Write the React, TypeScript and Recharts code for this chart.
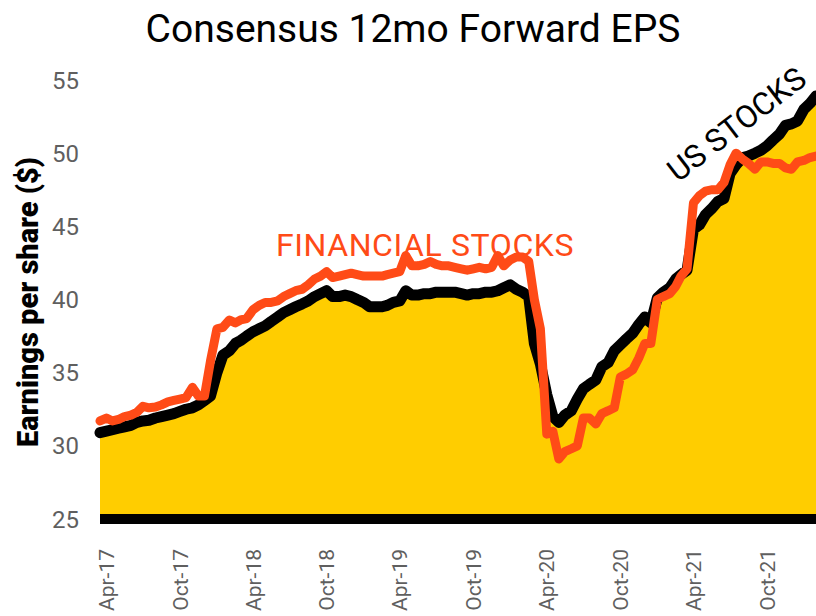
import React from 'react';
import { ComposedChart, Area, Line, XAxis, YAxis } from 'recharts';

// semi-monthly observation dates
const dates = [
  '2017-03-16',
  '2017-04-01', '2017-04-16', '2017-05-01', '2017-05-16', '2017-06-01', '2017-06-16',
  '2017-07-01', '2017-07-16', '2017-08-01', '2017-08-16', '2017-09-01', '2017-09-16',
  '2017-10-01', '2017-10-16', '2017-11-01', '2017-11-16', '2017-12-01', '2017-12-16',
  '2018-01-01', '2018-01-16', '2018-02-01', '2018-02-16', '2018-03-01', '2018-03-16',
  '2018-04-01', '2018-04-16', '2018-05-01', '2018-05-16', '2018-06-01', '2018-06-16',
  '2018-07-01', '2018-07-16', '2018-08-01', '2018-08-16', '2018-09-01', '2018-09-16',
  '2018-10-01', '2018-10-16', '2018-11-01', '2018-11-16', '2018-12-01', '2018-12-16',
  '2019-01-01', '2019-01-16', '2019-02-01', '2019-02-16', '2019-03-01', '2019-03-16',
  '2019-04-01', '2019-04-16', '2019-05-01', '2019-05-16', '2019-06-01', '2019-06-16',
  '2019-07-01', '2019-07-16', '2019-08-01', '2019-08-16', '2019-09-01', '2019-09-16',
  '2019-10-01', '2019-10-16', '2019-11-01', '2019-11-16', '2019-12-01', '2019-12-16',
  '2020-01-01', '2020-01-16', '2020-02-01', '2020-02-16', '2020-03-01', '2020-03-16',
  '2020-04-01', '2020-04-16', '2020-05-01', '2020-05-16', '2020-06-01', '2020-06-16',
  '2020-07-01', '2020-07-16', '2020-08-01', '2020-08-16', '2020-09-01', '2020-09-16',
  '2020-10-01', '2020-10-16', '2020-11-01', '2020-11-16', '2020-12-01', '2020-12-16',
  '2021-01-01', '2021-01-16', '2021-02-01', '2021-02-16', '2021-03-01', '2021-03-16',
  '2021-04-01', '2021-04-16', '2021-05-01', '2021-05-16', '2021-06-01', '2021-06-16',
  '2021-07-01', '2021-07-16', '2021-08-01', '2021-08-16', '2021-09-01', '2021-09-16',
  '2021-10-01', '2021-10-16', '2021-11-01', '2021-11-16', '2021-12-01', '2021-12-16',
  '2022-01-01', '2022-01-16', '2022-01-31',
];

const usStocks = [
  30.9, 31.0, 31.1, 31.2, 31.3, 31.4, 31.6, 31.7, 31.75, 31.9, 32.0, 32.1, 32.2, 32.35, 32.5, 32.6, 32.8, 33.1, 33.4,
  35.0, 36.2, 36.5, 37.0, 37.2, 37.5, 37.8, 38.0, 38.2, 38.5, 38.8, 39.1, 39.3, 39.5, 39.7, 39.9, 40.2, 40.4, 40.6, 40.2, 40.2, 40.3, 40.2, 40.0,
  39.8, 39.5, 39.5, 39.5, 39.6, 39.8, 39.9, 40.6, 40.3, 40.3, 40.4, 40.4, 40.5, 40.5, 40.5, 40.5, 40.4, 40.3, 40.4, 40.4, 40.5, 40.5, 40.6, 40.8,
  41.0, 40.7, 40.5, 40.2, 37.0, 35.6, 33.5, 32.0, 31.6, 32.1, 32.4, 33.2, 33.9, 34.2, 34.5, 35.4, 35.7, 36.5, 36.9, 37.3, 37.7, 38.3, 38.8, 38.4,
  40.1, 40.5, 40.8, 41.4, 41.7, 42.0, 44.8, 45.1, 45.8, 46.2, 46.7, 46.9, 48.6, 49.2, 49.7, 49.8, 50.0, 50.2, 50.5, 50.9, 51.3, 51.9, 52.0, 52.2,
  53.0, 53.4, 53.9,
];

const financialStocks = [
  31.7, 31.9, 31.7, 31.8, 32.0, 32.1, 32.3, 32.7, 32.6, 32.65, 32.8, 33.0, 33.1, 33.2, 33.3, 34.0, 33.4, 33.4, 35.8,
  38.0, 38.1, 38.6, 38.4, 38.6, 38.7, 39.3, 39.6, 39.8, 39.8, 39.9, 40.2, 40.4, 40.6, 40.7, 41.0, 41.4, 41.6, 41.9, 41.5, 41.6, 41.7, 41.8, 41.7,
  41.6, 41.6, 41.6, 41.6, 41.7, 41.8, 41.9, 43.0, 42.3, 42.3, 42.4, 42.6, 42.4, 42.3, 42.3, 42.2, 42.1, 42.0, 42.1, 42.2, 42.1, 42.2, 43.0, 42.3,
  42.7, 42.9, 42.9, 42.6, 40.0, 38.0, 30.8, 31.0, 29.1, 29.6, 29.8, 30.0, 31.9, 31.9, 31.5, 32.2, 32.4, 32.6, 34.7, 34.9, 35.2, 36.0, 37.0, 37.0,
  40.0, 40.2, 40.4, 40.9, 41.6, 42.1, 46.6, 47.1, 47.4, 47.5, 47.5, 48.0, 49.2, 50.0, 49.6, 49.3, 48.9, 49.4, 49.4, 49.3, 49.3, 49.0, 48.9, 49.4,
  49.5, 49.7, 49.8,
];

const tickDates = [
  '2017-04-01', '2017-10-01', '2018-04-01', '2018-10-01', '2019-04-01',
  '2019-10-01', '2020-04-01', '2020-10-01', '2021-04-01', '2021-10-01',
];
const yTicks = [25, 30, 35, 40, 45, 50, 55];
const monthNames = ['Jan', 'Feb', 'Mar', 'Apr', 'May', 'Jun', 'Jul', 'Aug', 'Sep', 'Oct', 'Nov', 'Dec'];

const YELLOW = '#FFCD00';
const ORANGE = '#FF4B17';
const GREY = '#5f5f5f';
const FONT = 'Roboto, sans-serif';

const data = dates.map((d, i) => ({
  date: Date.parse(d),
  us: usStocks[i],
  fin: financialStocks[i],
}));

const formatTick = (ts: number) => {
  const d = new Date(ts);
  return `${monthNames[d.getUTCMonth()]}-${String(d.getUTCFullYear()).slice(2)}`;
};

const DateTick = (props: any) => {
  const { x, y, payload } = props;
  const ty = y + 22;
  return (
    <text
      x={x}
      y={ty}
      dy="0.36em"
      transform={`rotate(-90 ${x} ${ty})`}
      textAnchor="end"
      fill={GREY}
      fontSize={21}
      fontFamily={FONT}
    >
      {formatTick(payload.value)}
    </text>
  );
};

export default function App() {
  return (
    <div style={{ position: 'absolute', left: 0, top: 0, width: 816, height: 616, overflow: 'hidden', background: '#fff' }}>
      <ComposedChart
        width={816}
        height={616}
        data={data}
        margin={{ top: 80, right: 0, bottom: 0, left: 0 }}
      >
        <XAxis
          dataKey="date"
          type="number"
          scale="time"
          domain={[Date.parse('2017-03-16'), Date.parse('2022-01-31')]}
          ticks={tickDates.map((d) => Date.parse(d))}
          interval={0}
          height={97}
          tickLine={false}
          axisLine={{ stroke: '#000', strokeWidth: 10 }}
          tick={<DateTick />}
        />
        <YAxis
          domain={[25, 55]}
          ticks={yTicks}
          width={100}
          tickLine={false}
          axisLine={false}
          tickMargin={15}
          tick={{ fill: GREY, fontSize: 24, fontFamily: FONT }}
        />
        <Area
          type="linear"
          dataKey="us"
          fill={YELLOW}
          fillOpacity={1}
          stroke="#000"
          strokeWidth={11}
          strokeLinejoin="round"
          strokeLinecap="round"
          isAnimationActive={false}
        />
        <Line
          type="linear"
          dataKey="fin"
          stroke={ORANGE}
          strokeWidth={9}
          strokeLinejoin="round"
          strokeLinecap="round"
          dot={false}
          isAnimationActive={false}
        />
      </ComposedChart>
      <svg width={816} height={616} style={{ position: 'absolute', left: 0, top: 0, pointerEvents: 'none' }}>
        <text x={413} y={42} textAnchor="middle" fontSize={39} fontFamily={FONT} fill="#000">
          Consensus 12mo Forward EPS
        </text>
        <text
          transform="translate(38 302) rotate(-90)"
          textAnchor="middle"
          fontSize={29}
          fontWeight={900}
          fontFamily={FONT}
          fill="#000"
        >
          Earnings per share ($)
        </text>
        <text x={425} y={256} textAnchor="middle" fontSize={32} letterSpacing={0.6} fontFamily={FONT} fill={ORANGE}>
          FINANCIAL STOCKS
        </text>
        <text transform="translate(678 183) rotate(-37.5)" fontSize={31.5} fontFamily={FONT} fill="#000">
          US STOCKS
        </text>
      </svg>
    </div>
  );
}
